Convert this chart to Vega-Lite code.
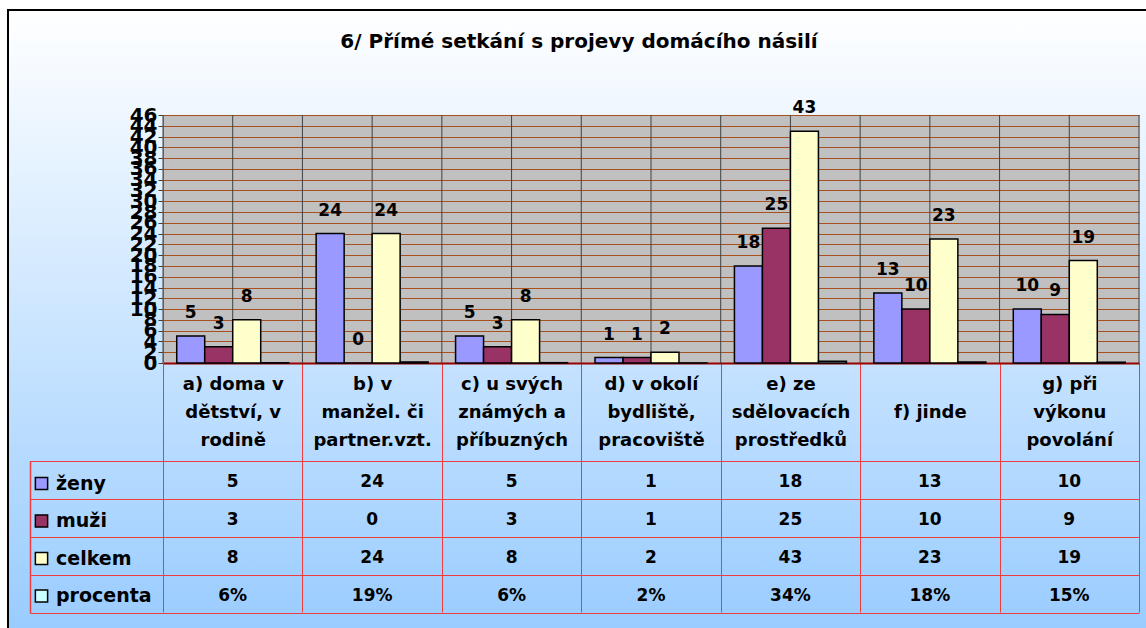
{
  "$schema": "https://vega.github.io/schema/vega-lite/v6.json",
  "width": 1142,
  "height": 622,
  "autosize": {"type": "none"},
  "padding": {"left": 8, "top": 10, "right": 0, "bottom": 0},
  "background": "#ffffff",
  "view": {
    "fill": {"gradient": "linear", "x1": 0, "y1": 0, "x2": 0, "y2": 1, "stops": [{"offset": 0, "color": "#ffffff"}, {"offset": 1, "color": "#99ccff"}]},
    "stroke": "#000000",
    "strokeWidth": 2
  },
  "title": {"text": "6/ Přímé setkání s projevy domácího násilí", "font": "DejaVu Sans", "fontSize": 20, "fontWeight": "bold", "color": "#000000", "anchor": "middle", "frame": "group", "offset": -58, "baseline": "alphabetic"},
  "config": {
    "axisX": {
      "orient": "bottom", "offset": -269, "tickBand": "extent", "ticks": true, "tickSize": 249, "tickColor": "#f03c3c", "tickWidth": 1, "domain": true, "domainColor": "#990000", "domainWidth": 2, "grid": false,
      "labelAngle": 0, "labelFont": "DejaVu Sans", "labelFontSize": 18, "labelFontWeight": "bold", "labelColor": "#000000", "labelLineHeight": 28, "labelBaseline": "middle", "labelPadding": -228, "labelLimit": 0
    }
  },
  "datasets": {
    "vals": [
      {"cat": "a) doma v dětství, v rodině", "series": "ženy", "value": 5, "label": "5"},
      {"cat": "a) doma v dětství, v rodině", "series": "muži", "value": 3, "label": "3"},
      {"cat": "a) doma v dětství, v rodině", "series": "celkem", "value": 8, "label": "8"},
      {"cat": "a) doma v dětství, v rodině", "series": "procenta", "value": 0.06, "label": "6%"},
      {"cat": "b) v manžel. či partner.vzt.", "series": "ženy", "value": 24, "label": "24"},
      {"cat": "b) v manžel. či partner.vzt.", "series": "muži", "value": 0, "label": "0"},
      {"cat": "b) v manžel. či partner.vzt.", "series": "celkem", "value": 24, "label": "24"},
      {"cat": "b) v manžel. či partner.vzt.", "series": "procenta", "value": 0.19, "label": "19%"},
      {"cat": "c) u svých známých a příbuzných", "series": "ženy", "value": 5, "label": "5"},
      {"cat": "c) u svých známých a příbuzných", "series": "muži", "value": 3, "label": "3"},
      {"cat": "c) u svých známých a příbuzných", "series": "celkem", "value": 8, "label": "8"},
      {"cat": "c) u svých známých a příbuzných", "series": "procenta", "value": 0.06, "label": "6%"},
      {"cat": "d) v okolí bydliště, pracoviště", "series": "ženy", "value": 1, "label": "1"},
      {"cat": "d) v okolí bydliště, pracoviště", "series": "muži", "value": 1, "label": "1"},
      {"cat": "d) v okolí bydliště, pracoviště", "series": "celkem", "value": 2, "label": "2"},
      {"cat": "d) v okolí bydliště, pracoviště", "series": "procenta", "value": 0.02, "label": "2%"},
      {"cat": "e) ze sdělovacích prostředků", "series": "ženy", "value": 18, "label": "18"},
      {"cat": "e) ze sdělovacích prostředků", "series": "muži", "value": 25, "label": "25"},
      {"cat": "e) ze sdělovacích prostředků", "series": "celkem", "value": 43, "label": "43"},
      {"cat": "e) ze sdělovacích prostředků", "series": "procenta", "value": 0.34, "label": "34%"},
      {"cat": "f) jinde", "series": "ženy", "value": 13, "label": "13"},
      {"cat": "f) jinde", "series": "muži", "value": 10, "label": "10"},
      {"cat": "f) jinde", "series": "celkem", "value": 23, "label": "23"},
      {"cat": "f) jinde", "series": "procenta", "value": 0.18, "label": "18%"},
      {"cat": "g) při výkonu povolání", "series": "ženy", "value": 10, "label": "10"},
      {"cat": "g) při výkonu povolání", "series": "muži", "value": 9, "label": "9"},
      {"cat": "g) při výkonu povolání", "series": "celkem", "value": 19, "label": "19"},
      {"cat": "g) při výkonu povolání", "series": "procenta", "value": 0.15, "label": "15%"}
    ]
  },
  "data": {"name": "vals"},
  "layer": [
    {
      "transform": [{"filter": "datum.series == 'ženy'"}],
      "mark": {"type": "rule", "color": "#404040", "strokeWidth": 1},
      "encoding": {
        "x": {"field": "cat", "type": "nominal", "sort": null, "title": null, "bandPosition": 0, "scale": {"type": "band", "range": [155, 1131], "paddingInner": 0, "paddingOuter": 0},
          "axis": {"title": null, "labelExpr": "datum.label == 'a) doma v dětství, v rodině' ? ['a) doma v', 'dětství, v', 'rodině'] : datum.label == 'b) v manžel. či partner.vzt.' ? ['b) v', 'manžel. či', 'partner.vzt.'] : datum.label == 'c) u svých známých a příbuzných' ? ['c) u svých', 'známých a', 'příbuzných'] : datum.label == 'd) v okolí bydliště, pracoviště' ? ['d) v okolí', 'bydliště,', 'pracoviště'] : datum.label == 'e) ze sdělovacích prostředků' ? ['e) ze', 'sdělovacích', 'prostředků'] : datum.label == 'g) při výkonu povolání' ? ['g) při', 'výkonu', 'povolání'] : ['', datum.label, '']"}},
        "y": {"datum": 0, "type": "quantitative", "scale": {"domain": [0, 46], "range": [353, 105], "nice": false, "zero": true}, "axis": {"orient": "left", "title": null, "values": [23], "grid": true, "gridColor": "#c0c0c0", "gridWidth": 248, "labels": false, "ticks": false, "domain": false}},
        "y2": {"datum": 46}
      }
    },
    {
      "transform": [{"filter": "datum.series == 'ženy'"}],
      "mark": {"type": "rule", "color": "#404040", "strokeWidth": 1},
      "encoding": {
        "x": {"field": "cat", "type": "nominal", "sort": null, "title": null, "bandPosition": 0.5, "scale": {"type": "band", "range": [155, 1131], "paddingInner": 0, "paddingOuter": 0}},
        "y": {"datum": 0, "type": "quantitative", "scale": {"domain": [0, 46], "range": [353, 105], "nice": false, "zero": true}, "axis": null},
        "y2": {"datum": 46}
      }
    },
    {
      "transform": [{"filter": "datum.series == 'ženy' && datum.cat == 'g) při výkonu povolání'"}],
      "mark": {"type": "rule", "color": "#404040", "strokeWidth": 1},
      "encoding": {
        "x": {"field": "cat", "type": "nominal", "sort": null, "title": null, "bandPosition": 1, "scale": {"type": "band", "range": [155, 1131], "paddingInner": 0, "paddingOuter": 0}},
        "y": {"datum": 0, "type": "quantitative", "scale": {"domain": [0, 46], "range": [353, 105], "nice": false, "zero": true}, "axis": null},
        "y2": {"datum": 46}
      }
    },
    {
      "mark": {"type": "bar", "stroke": "#000000", "strokeWidth": 1.5},
      "encoding": {
        "x": {"field": "cat", "type": "nominal", "sort": null, "title": null, "scale": {"type": "band", "range": [155, 1131], "paddingInner": 0, "paddingOuter": 0}},
        "xOffset": {"field": "series", "type": "nominal", "sort": ["ženy", "muži", "celkem", "procenta"], "scale": {"domain": ["ženy", "muži", "celkem", "procenta"], "paddingInner": 0, "paddingOuter": 0.49}},
        "y": {"field": "value", "type": "quantitative", "scale": {"domain": [0, 46], "range": [353, 105], "nice": false, "zero": true},
          "axis": {"orient": "left", "offset": -155, "title": null, "values": [0, 2, 4, 6, 8, 10, 12, 14, 16, 18, 20, 22, 24, 26, 28, 30, 32, 34, 36, 38, 40, 42, 44, 46], "grid": true, "gridColor": "#a8501e", "gridWidth": 1, "ticks": true, "tickSize": 5, "tickColor": "#404040", "domain": true, "domainColor": "#808080", "labelFont": "DejaVu Sans", "labelFontSize": 20, "labelFontWeight": "bold", "labelColor": "#000000", "labelPadding": 1, "labelOverlap": false, "labelFlush": false, "labelBound": false}},
        "color": {"field": "series", "type": "nominal", "sort": ["ženy", "muži", "celkem", "procenta"], "scale": {"domain": ["ženy", "muži", "celkem", "procenta"], "range": ["#9999ff", "#993366", "#ffffcc", "#ccffff"]},
          "legend": {"orient": "none", "legendX": 24, "legendY": 464, "title": null, "direction": "vertical", "symbolType": "square", "symbolSize": 150, "symbolStrokeColor": "#000000", "symbolStrokeWidth": 1.5, "labelFont": "DejaVu Sans", "labelFontSize": 19, "labelFontWeight": "bold", "labelColor": "#000000", "labelOffset": 5, "rowPadding": 17.5, "padding": 0}}
      }
    },
    {
      "transform": [{"filter": "datum.series != 'procenta'"}],
      "mark": {"type": "text", "font": "DejaVu Sans", "fontSize": 17, "fontWeight": "bold", "color": "#000000", "baseline": "alphabetic", "dy": -18},
      "encoding": {
        "x": {"field": "cat", "type": "nominal", "sort": null, "title": null, "scale": {"type": "band", "range": [155, 1131], "paddingInner": 0, "paddingOuter": 0}},
        "xOffset": {"field": "series", "type": "nominal", "sort": ["ženy", "muži", "celkem", "procenta"], "scale": {"domain": ["ženy", "muži", "celkem", "procenta"], "paddingInner": 0, "paddingOuter": 0.49}},
        "y": {"field": "value", "type": "quantitative", "scale": {"domain": [0, 46], "range": [353, 105], "nice": false, "zero": true}, "axis": null},
        "text": {"field": "label"}
      }
    },
    {
      "mark": {"type": "text", "font": "DejaVu Sans", "fontSize": 17, "fontWeight": "bold", "color": "#000000", "baseline": "middle", "dy": 2},
      "encoding": {
        "x": {"field": "cat", "type": "nominal", "sort": null, "title": null, "scale": {"type": "band", "range": [155, 1131], "paddingInner": 0, "paddingOuter": 0}},
        "y": {"field": "series", "type": "nominal", "sort": ["ženy", "muži", "celkem", "procenta"], "scale": {"type": "band", "domain": ["ženy", "muži", "celkem", "procenta"], "range": [450.5, 603], "paddingInner": 0, "paddingOuter": 0},
          "axis": {"orient": "left", "offset": -22, "title": null, "labels": false, "tickBand": "extent", "ticks": true, "tickSize": -1109, "tickColor": "#f03c3c", "tickWidth": 1, "domain": true, "domainColor": "#f03c3c", "domainWidth": 1.5, "grid": false}},
        "text": {"field": "label"}
      }
    }
  ],
  "resolve": {"scale": {"y": "independent"}, "axis": {"y": "independent"}}
}
